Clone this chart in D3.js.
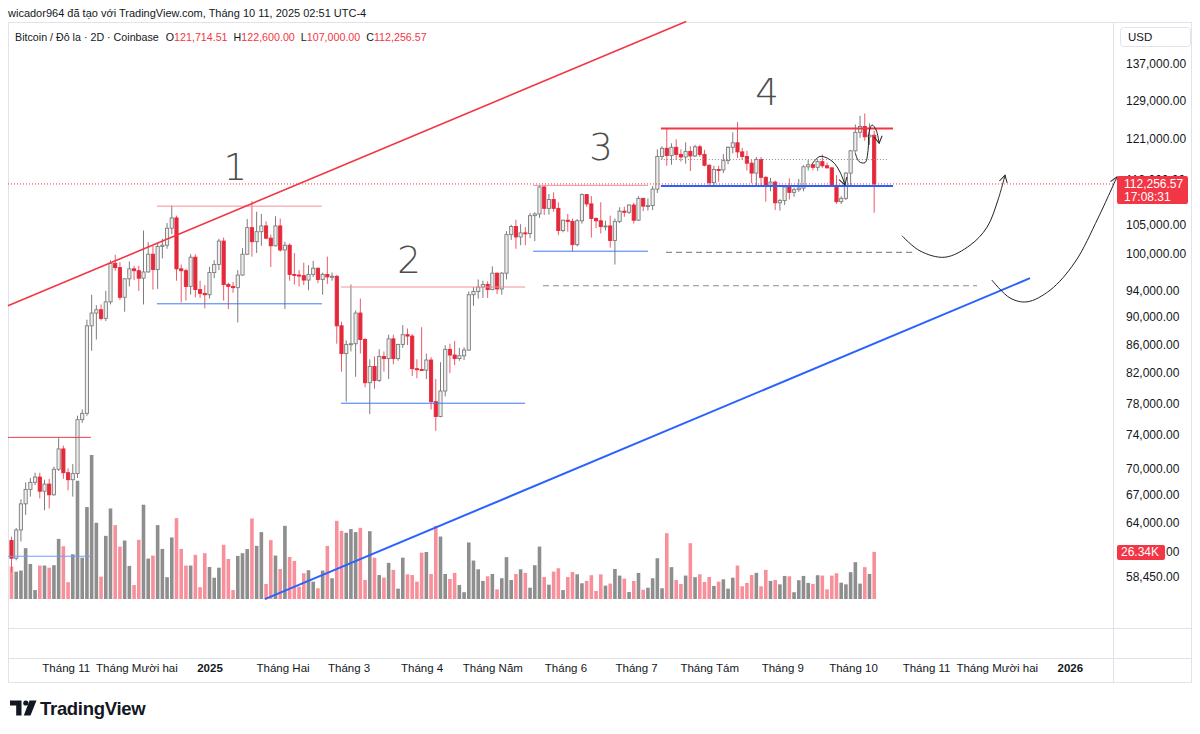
<!DOCTYPE html>
<html>
<head>
<meta charset="utf-8">
<script src="https://cdn.jsdelivr.net/npm/d3@7"></script>
<style>
  body { margin: 0; background: #fff; }
  text { font-family: "Liberation Sans", Arial, sans-serif; }
</style>
</head>
<body>
<svg id="chart" width="1200" height="734"></svg>
<script>
// ---- DATA: 2D candles, prices in thousand USD, volume in thousand BTC ----
const opens = [62.1,60.3,63.2,66.0,67.6,68.4,69.0,67.4,68.2,67.0,
  69.9,72.3,69.5,68.7,69.4,75.9,76.7,88.7,90.6,91.1,
  89.8,92.3,98.4,97.7,93.0,95.9,97.5,97.2,96.0,97.0,
  99.9,97.4,101.2,101.4,104.3,106.1,97.5,97.2,94.7,99.4,
  94.2,93.6,93.4,96.9,98.2,102.1,95.0,94.7,94.5,96.5,
  99.9,104.4,102.0,103.7,104.7,102.6,101.3,104.7,100.6,101.4,
  96.6,96.5,96.4,95.7,96.6,97.6,95.8,96.6,96.2,96.3,
  88.7,84.7,86.0,86.1,90.6,86.7,80.7,82.9,81.0,84.3,
  84.0,86.8,84.0,86.0,87.4,87.2,82.6,82.5,82.4,83.8,
  78.2,76.3,79.6,85.3,84.5,84.0,84.4,85.2,93.4,93.9,
  94.6,95.0,94.2,96.8,94.3,96.8,103.2,104.6,102.8,103.5,
  103.4,106.5,106.8,111.7,107.8,109.4,107.8,103.9,105.7,105.5,
  101.5,105.6,110.3,108.6,106.0,105.6,104.6,104.7,102.2,105.5,
  107.3,107.1,108.4,105.7,109.6,108.2,108.3,111.3,117.5,119.1,
  117.7,119.3,117.9,117.4,118.5,117.6,119.4,117.9,115.8,112.5,
  115.0,114.9,116.7,119.3,120.2,118.4,117.5,116.2,114.3,116.9,
  113.5,111.8,112.6,108.8,109.2,111.7,110.7,111.2,111.5,115.5,
  115.9,115.4,116.5,115.7,115.3,112.0,109.0,109.6,114.3,118.6,
  122.3,123.5,121.4,121.71451];
const highs = [62.5,63.4,66.5,68.4,68.9,69.5,69.5,68.7,68.8,70.2,
  73.6,72.7,70.0,70.5,76.4,77.2,89.6,93.4,91.8,91.9,
  94.0,98.9,99.8,98.6,96.0,98.7,98.0,98.0,103.9,101.9,
  101.3,101.8,102.5,105.2,108.3,106.5,98.2,97.5,99.9,99.9,
  95.6,94.9,97.8,98.9,102.5,102.7,95.3,95.4,97.3,100.9,
  105.9,109.1,107.2,106.8,105.5,103.2,106.4,106.0,102.0,101.7,
  100.1,97.3,98.5,98.1,98.8,97.7,96.9,99.5,96.9,96.5,
  89.3,86.6,95.0,91.0,92.8,86.9,83.9,84.3,85.3,85.0,
  87.4,87.4,86.1,88.8,88.3,87.5,83.9,88.5,84.7,84.2,
  81.2,83.5,85.9,86.1,86.5,85.5,85.6,93.9,94.6,95.8,
  95.6,95.5,97.9,96.9,97.0,103.8,104.9,105.8,105.0,104.5,
  107.0,107.1,111.9,111.9,110.4,110.7,108.9,105.8,106.8,106.0,
  105.9,110.5,110.4,110.0,106.2,108.9,105.6,106.5,106.0,108.0,
  108.1,108.5,108.8,110.0,109.7,109.6,111.9,118.9,119.5,123.2,
  120.1,120.9,118.9,120.3,119.5,119.8,119.8,118.8,116.0,115.7,
  115.7,118.0,119.5,122.3,124.4,119.2,118.6,116.8,117.4,117.4,
  113.7,113.4,112.9,109.5,112.0,113.3,111.6,113.2,115.8,116.8,
  116.1,117.0,117.9,116.3,115.4,113.9,110.0,114.5,118.8,123.9,
  125.7,126.2,124.1,122.6];
const lows = [58.9,60.1,62.0,64.8,66.8,68.1,66.6,65.3,65.5,66.9,
  69.7,68.8,67.5,66.8,68.9,75.5,76.4,85.1,86.7,89.5,
  89.4,91.9,97.2,92.6,90.8,94.7,95.7,94.0,91.9,96.9,
  94.2,94.3,99.2,100.8,103.3,95.6,92.2,92.5,93.4,93.0,
  92.9,91.3,92.8,96.0,97.3,92.5,91.2,93.7,89.2,96.4,
  99.8,99.5,100.1,101.3,102.4,97.8,101.2,100.3,91.2,95.6,
  95.0,94.7,94.9,94.1,96.2,95.2,93.4,95.1,95.6,86.1,
  82.2,78.2,85.0,81.5,84.7,80.1,76.6,79.9,80.8,82.2,
  81.2,83.2,83.7,85.5,85.9,81.6,81.3,82.3,81.2,77.2,
  74.5,76.2,78.9,82.0,83.1,83.7,83.8,85.1,91.7,92.8,
  92.9,92.9,94.1,93.5,93.4,95.8,102.3,100.8,101.4,101.4,
  102.6,102.1,106.1,106.6,106.7,107.2,103.1,103.6,103.7,100.4,
  101.2,105.1,108.1,102.7,104.3,103.4,103.9,101.0,98.2,105.2,
  106.3,106.8,105.1,105.6,107.3,107.4,107.5,110.6,116.9,115.7,
  115.9,116.8,116.5,116.1,114.7,117.4,117.4,115.6,112.0,111.9,
  112.7,114.3,116.0,118.1,117.2,116.8,114.8,112.4,111.7,112.0,
  109.0,110.9,107.5,107.4,108.4,109.4,109.9,110.8,110.9,114.8,
  114.8,114.7,115.3,115.2,111.9,108.6,108.6,109.3,111.7,118.4,
  121.2,120.6,119.8,107.0];
const closes = [60.3,63.2,66.0,67.6,68.4,69.0,67.4,68.2,67.0,69.9,
  72.3,69.5,68.7,69.4,75.9,76.7,88.7,90.6,91.1,89.8,
  92.3,98.4,97.7,93.0,95.9,97.5,97.2,96.0,97.0,99.9,
  97.4,101.2,101.4,104.3,106.1,97.5,97.2,94.7,99.4,94.2,
  93.6,93.4,96.9,98.2,102.1,95.0,94.7,94.5,96.5,99.9,
  104.4,102.0,103.7,104.7,102.6,101.3,104.7,100.6,101.4,96.6,
  96.5,96.4,95.7,96.6,97.6,95.8,96.6,96.2,96.3,88.7,
  84.7,86.0,86.1,90.6,86.7,80.7,82.9,81.0,84.3,84.0,
  86.8,84.0,86.0,87.4,87.2,82.6,82.5,82.4,83.8,78.2,
  76.3,79.6,85.3,84.5,84.0,84.4,85.2,93.4,93.9,94.6,
  95.0,94.2,96.8,94.3,96.8,103.2,104.6,102.8,103.5,103.4,
  106.5,106.8,111.7,107.8,109.4,107.8,103.9,105.7,105.5,101.5,
  105.6,110.3,108.6,106.0,105.6,104.6,104.7,102.2,105.5,107.3,
  107.1,108.4,105.7,109.6,108.2,108.3,111.3,117.5,119.1,117.7,
  119.3,117.9,117.4,118.5,117.6,119.4,117.9,115.8,112.5,115.0,
  114.9,116.7,119.3,120.2,118.4,117.5,116.2,114.3,116.9,113.5,
  111.8,112.6,108.8,109.2,111.7,110.7,111.2,111.5,115.5,115.9,
  115.4,116.5,115.7,115.3,112.0,109.0,109.6,114.3,118.6,122.3,
  123.5,121.4,121.71451,112.25657];
const volumes = [18.1,15.3,15.9,28.4,19.6,5.0,18.7,18.7,17.5,18.9,
  33.6,29.5,9.4,25.0,66.1,23.1,51.4,80.5,42.6,12.5,
  35.3,50.6,41.3,29.3,32.7,18.5,7.8,33.1,52.7,22.6,
  24.3,41.3,28.0,12.2,34.4,45.2,28.0,18.7,18.7,24.7,
  6.6,25.6,17.9,11.9,17.5,30.3,22.4,5.0,24.1,25.6,
  27.9,45.0,29.7,37.4,8.4,32.9,24.3,16.8,40.9,23.5,
  21.3,6.9,14.4,16.1,9.7,6.0,15.9,29.7,11.6,43.7,
  38.1,37.0,39.1,37.4,39.8,10.6,37.9,23.1,13.4,11.9,
  20.2,16.3,5.8,23.1,13.8,13.4,9.7,25.9,26.3,14.0,
  40.9,34.9,14.0,11.2,14.6,7.8,3.8,31.6,21.5,16.6,
  10.1,12.7,14.0,5.4,11.6,23.4,10.6,14.0,16.6,14.6,
  6.3,18.9,29.3,12.3,8.0,15.3,17.2,5.0,12.3,15.1,
  13.8,8.8,10.1,13.3,4.5,13.8,7.5,8.6,16.8,13.1,
  11.4,3.9,10.1,14.6,5.2,6.3,11.6,22.8,6.0,36.8,
  17.8,10.6,8.4,13.1,31.2,12.2,13.8,9.5,12.3,7.3,
  9.7,11.0,5.8,11.9,18.7,7.1,9.0,13.4,14.6,7.1,
  16.3,10.1,10.6,8.2,12.9,12.7,3.8,10.5,12.9,9.0,
  8.4,13.3,13.1,5.4,13.1,14.4,9.1,8.2,15.0,20.6,
  8.6,17.8,14.0,26.34];

const priceTicks = [137000,129000,121000,113000,105000,100000,94000,90000,
  86000,82000,78000,74000,70000,67000,64000,61000,58450];
const monthTicks = ["2024-11-01","2024-12-01","2025-01-01","2025-02-01","2025-03-01",
  "2025-04-01","2025-05-01","2025-06-01","2025-07-01","2025-08-01","2025-09-01",
  "2025-10-01","2025-11-01","2025-12-01","2026-01-01"];
const monthLabels = ["Tháng 11","Tháng Mười hai","2025","Tháng Hai","Tháng 3","Tháng 4",
  "Tháng Năm","Tháng 6","Tháng 7","Tháng Tám","Tháng 9","Tháng 10","Tháng 11",
  "Tháng Mười hai","2026"];

// drawings: d = days after the first bar, p = thousand USD
const levels = [
  {d0: -1.5, d1: 33.7, p: 73.7, kind: "redLeft"},
  {d0: -1.5, d1: 33.7, p: 60.5, kind: "blueLeft"},
  {d0: 61.7, d1: 131.7, p: 108.2, kind: "redThin"},
  {d0: 61.7, d1: 131.7, p: 92.0, kind: "blueThin"},
  {d0: 139.8, d1: 217.9, p: 94.6, kind: "redThin"},
  {d0: 139.8, d1: 217.9, p: 78.0, kind: "blueThin"},
  {d0: 221.3, d1: 270.0, p: 112.0, kind: "redThin"},
  {d0: 221.3, d1: 270.0, p: 100.4, kind: "blueThin"},
  {d0: 275.5, d1: 371.9, p: 116.9, kind: "dotted"},
  {d0: 277.7, d1: 383.7, p: 100.2, kind: "dashed"},
  {d0: 225.5, d1: 409.6, p: 94.8, kind: "dashed"},
  {d0: 275.5, d1: 374.0, p: 123.1, kind: "redBold"},
  {d0: 275.5, d1: 374.0, p: 111.9, kind: "blueBold"}
];
const trendLines = [
  {kind: "redTrend", pts: [[-1.5, 91.7], [286.2, 147.0]]},
  {kind: "blueTrend", pts: [[107.5, 56.34], [432.1, 96.0]]}
];
const arrowPaths = [
  [[339.6,116.0],[343.0,117.5],[348.1,116.6],[351.5,114.5],[353.6,112.05]],
  [[357.9,118.3],[359.6,116.5],[362.1,116.3],[363.4,118.7],[363.8,122.3],[365.1,123.8],[366.8,122.8],[368.1,120.1]],
  [[377.8,103.0],[385.4,100.45],[396.0,99.4],[406.7,101.4],[413.9,104.5],[418.5,109.3],[421.5,113.9]],
  [[415.9,95.7],[423.6,92.9],[430.8,92.3],[440.6,94.1],[451.2,98.6],[461.0,106.1],[469.0,113.6]]
];
const waveLabels = [
  {t: "1", d: 94.9, p: 115.3},
  {t: "2", d: 168.6, p: 98.8},
  {t: "3", d: 250.1, p: 119.2},
  {t: "4", d: 320.5, p: 130.6}
];

// ---- SETUP ----
const DAY = 86400000;
const firstBar = new Date(Date.UTC(2024, 9, 9));
const day = n => new Date(firstBar.getTime() + n * DAY);

const bars = opens.map((o, i) => ({
  date: day(2 * i), o: o * 1000, h: highs[i] * 1000, l: lows[i] * 1000,
  c: closes[i] * 1000, v: volumes[i]
}));
const last = bars[bars.length - 1];

const paneLeft = 8, paneRight = 1113, paneTop = 22, paneBottom = 628;

const x = d3.scaleTime().domain([day(0), day(366)]).range([11.5, 874.2]);
const y = d3.scaleLog().domain([58450, 137000]).range([577, 64]);
const yVol = d3.scaleLinear().domain([0, d3.max(volumes)]).range([599, 455]);

const RED = "#f23645";
const fmt = d3.format(",.2f");

const svg = d3.select("#chart");
svg.append("rect").attr("width", 1200).attr("height", 734).attr("fill", "#fff");

const defs = svg.append("defs");
defs.append("clipPath").attr("id", "pane")
  .append("rect").attr("x", paneLeft).attr("y", paneTop)
  .attr("width", paneRight - paneLeft).attr("height", paneBottom - paneTop);

const marker = defs.append("marker")
  .attr("id", "arrow").attr("viewBox", "-9 -6 11 12")
  .attr("refX", 0).attr("refY", 0)
  .attr("markerWidth", 11).attr("markerHeight", 12)
  .attr("markerUnits", "userSpaceOnUse").attr("orient", "auto");
marker.append("path").attr("d", "M-7,-4L0,0L-7,4")
  .attr("fill", "none").attr("stroke", "#222").attr("stroke-width", 1);

// ---- FRAME ----
const frame = svg.append("g").attr("stroke", "#e0e3eb").attr("fill", "none");
frame.append("rect").attr("x", 8.5).attr("y", paneTop + 0.5).attr("width", 1183).attr("height", 660);
frame.append("line").attr("x1", paneRight + 0.5).attr("x2", paneRight + 0.5).attr("y1", paneTop).attr("y2", 682);
frame.append("line").attr("x1", 8).attr("x2", 1192).attr("y1", 628.5).attr("y2", 628.5);
frame.append("line").attr("x1", 8).attr("x2", 1192).attr("y1", 658.5).attr("y2", 658.5);

const plot = svg.append("g").attr("clip-path", "url(#pane)");

// ---- VOLUME ----
plot.append("g").selectAll("rect").data(bars).join("rect")
  .attr("x", d => x(d.date) - 1.8)
  .attr("width", 3.6)
  .attr("y", d => yVol(d.v))
  .attr("height", d => yVol(0) - yVol(d.v))
  .attr("fill", d => d.c < d.o ? "#f7909a" : "#8e8e8e");

// ---- CANDLES ----
const candles = plot.append("g").selectAll("g").data(bars).join("g");
candles.append("line")
  .attr("x1", d => x(d.date)).attr("x2", d => x(d.date))
  .attr("y1", d => y(d.h)).attr("y2", d => y(d.l))
  .attr("stroke", d => d.c < d.o ? "#ee5a67" : "#7c7c7c")
  .attr("stroke-width", 1);
candles.append("rect")
  .attr("x", d => x(d.date) - 1.6)
  .attr("width", 3.2)
  .attr("y", d => y(Math.max(d.o, d.c)))
  .attr("height", d => Math.max(1, Math.abs(y(d.o) - y(d.c))))
  .attr("fill", d => d.c < d.o ? "#e5283a" : "#eeeeee")
  .attr("stroke", d => d.c < d.o ? "#e5283a" : "#7c7c7c")
  .attr("stroke-width", 0.9);

// ---- LEVELS ----
const levelStyle = {
  redLeft: {stroke: "#e8404e", w: 1},
  blueLeft: {stroke: "#6f9bff", w: 1},
  redThin: {stroke: "#f58f98", w: 1},
  blueThin: {stroke: "#3f78f6", w: 1},
  redBold: {stroke: RED, w: 2},
  blueBold: {stroke: "#2962ff", w: 2},
  dotted: {stroke: "#8a8a8a", w: 1, dash: "1,2"},
  dashed: {stroke: "#8c8c8c", w: 1.2, dash: "6,4"},
  redTrend: {stroke: RED, w: 1.6},
  blueTrend: {stroke: "#2962ff", w: 2}
};

plot.append("line")
  .attr("x1", paneLeft).attr("x2", paneRight)
  .attr("y1", y(last.c)).attr("y2", y(last.c))
  .attr("stroke", RED).attr("stroke-dasharray", "1,2").attr("stroke-width", 1);

plot.append("g").selectAll("line").data(levels).join("line")
  .attr("x1", d => x(day(d.d0))).attr("x2", d => x(day(d.d1)))
  .attr("y1", d => y(d.p * 1000)).attr("y2", d => y(d.p * 1000))
  .attr("stroke", d => levelStyle[d.kind].stroke)
  .attr("stroke-width", d => levelStyle[d.kind].w)
  .attr("stroke-dasharray", d => levelStyle[d.kind].dash || null);

const lineGen = d3.line().x(p => x(day(p[0]))).y(p => y(p[1] * 1000));
svg.append("g").selectAll("path").data(trendLines).join("path")
  .attr("d", d => lineGen(d.pts))
  .attr("fill", "none")
  .attr("stroke", d => levelStyle[d.kind].stroke)
  .attr("stroke-width", d => levelStyle[d.kind].w);

const curveGen = d3.line().x(p => x(day(p[0]))).y(p => y(p[1] * 1000)).curve(d3.curveCatmullRom);
svg.append("g").selectAll("path").data(arrowPaths).join("path")
  .attr("d", d => curveGen(d))
  .attr("fill", "none").attr("stroke", "#222").attr("stroke-width", 1)
  .attr("marker-end", "url(#arrow)");

svg.append("g").selectAll("text").data(waveLabels).join("text")
  .attr("x", d => x(day(d.d))).attr("y", d => y(d.p * 1000))
  .attr("text-anchor", "middle").attr("dominant-baseline", "central")
  .attr("font-size", 37).attr("fill", "#4d4d4d")
  .style("font-family", "'DejaVu Sans', sans-serif").style("font-weight", 300)
  .text(d => d.t);

// ---- AXES ----
const yAxis = svg.append("g")
  .attr("transform", `translate(${paneRight + 10},0)`)
  .call(d3.axisRight(y).tickValues(priceTicks).tickFormat(fmt).tickSize(0).tickPadding(3));
yAxis.select(".domain").remove();
yAxis.selectAll("text").attr("font-size", 12).attr("fill", "#131722")
  .style("font-family", "'Liberation Sans', Arial, sans-serif");

const monthDates = monthTicks.map(s => new Date(s));
const xAxis = svg.append("g")
  .attr("transform", "translate(0,664)")
  .call(d3.axisBottom(x).tickValues(monthDates).tickFormat((d, i) => monthLabels[i]).tickSize(0).tickPadding(0));
xAxis.select(".domain").remove();
xAxis.selectAll("text").attr("font-size", 11.5).attr("fill", "#131722")
  .style("font-family", "'Liberation Sans', Arial, sans-serif")
  .style("font-weight", (d, i) => /^\d{4}$/.test(monthLabels[i]) ? 700 : 400);

// USD box
svg.append("rect").attr("x", 1120.5).attr("y", 27.5).attr("width", 70).attr("height", 19).attr("rx", 3)
  .attr("fill", "#fff").attr("stroke", "#e0e3eb");
svg.append("text").attr("x", 1128).attr("y", 41).attr("font-size", 11.5).attr("fill", "#131722").text("USD");

// current price label
const py = y(last.c);
svg.append("rect").attr("x", 1117).attr("y", py - 8).attr("width", 71).attr("height", 28).attr("rx", 2).attr("fill", RED);
svg.append("text").attr("x", 1124).attr("y", py + 4).attr("font-size", 12).attr("fill", "#fff").text(fmt(last.c));
svg.append("text").attr("x", 1124).attr("y", py + 17).attr("font-size", 12).attr("fill", "#fff").text("17:08:31");

// volume label
const vy = yVol(last.v);
svg.append("rect").attr("x", 1117).attr("y", vy - 7).attr("width", 48).attr("height", 15).attr("rx", 2).attr("fill", RED);
svg.append("text").attr("x", 1121).attr("y", vy + 4.5).attr("font-size", 12).attr("fill", "#fff").text(last.v.toFixed(2) + "K");

// ---- HEADER ----
svg.append("text").attr("x", 8).attr("y", 17).attr("font-size", 11).attr("fill", "#131722")
  .text("wicador964 đã tạo với TradingView.com, Tháng 10 11, 2025 02:51 UTC-4");

const legend = svg.append("text").attr("x", 15).attr("y", 41).attr("font-size", 10.7).attr("fill", "#131722");
legend.append("tspan").text("Bitcoin / Đô la · 2D · Coinbase");
[["O", last.o], ["H", last.h], ["L", last.l], ["C", last.c]].forEach(([k, v], i) => {
  legend.append("tspan").attr("dx", i ? 6 : 7).text(k);
  legend.append("tspan").attr("fill", RED).text(fmt(v));
});

// ---- LOGO ----
const logo = svg.append("g").attr("fill", "#131722");
logo.append("path").attr("d", "M10,700.5H21.5V715.5H16.2V705.5H10Z");
logo.append("circle").attr("cx", 25.8).attr("cy", 703).attr("r", 2.6);
logo.append("path").attr("d", "M29.5,700.5H36.5L30.5,715.5H23.8Z");
svg.append("text").attr("x", 40).attr("y", 715).attr("font-size", 18.5).attr("font-weight", 700)
  .attr("fill", "#131722").attr("letter-spacing", -0.3).text("TradingView");
</script>
</body>
</html>
